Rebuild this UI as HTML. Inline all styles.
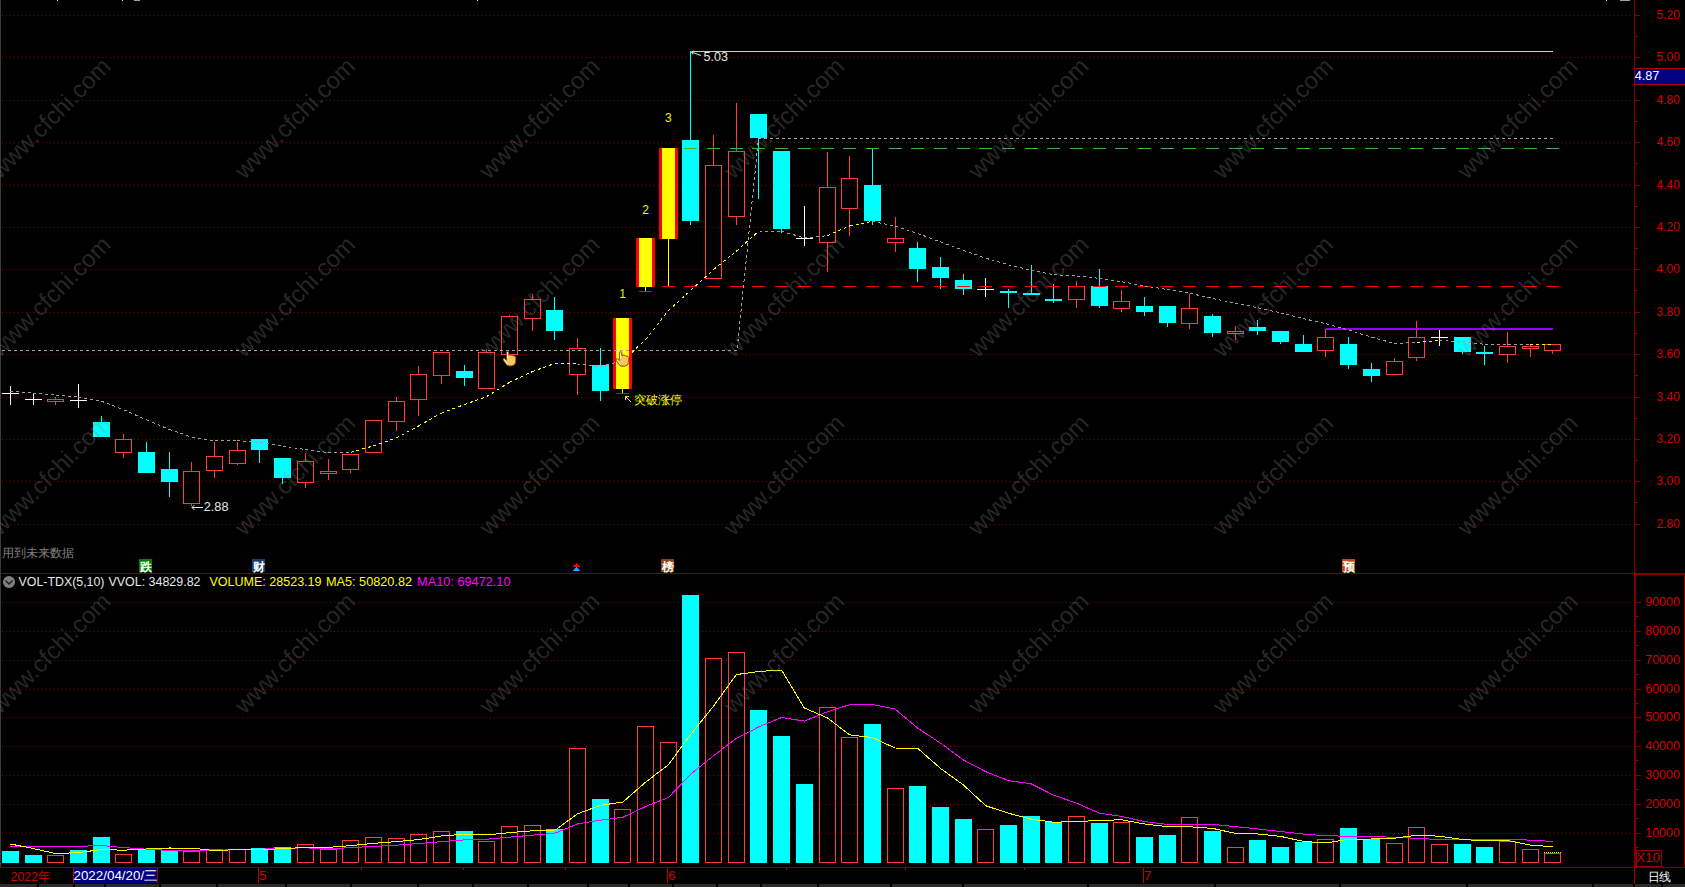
<!DOCTYPE html><html><head><meta charset="utf-8"><style>html,body{margin:0;padding:0;background:#000;width:1685px;height:887px;overflow:hidden;position:relative}</style></head><body><svg width="1685" height="887" viewBox="0 0 1685 887" shape-rendering="crispEdges" style="position:absolute;left:0;top:0"><rect x="0" y="0" width="1685" height="887" fill="#000"/><rect x="0" y="0" width="1" height="867" fill="#3a3a3a"/><line x1="2" y1="15.5" x2="1632" y2="15.5" stroke="#8c0000" stroke-width="1" stroke-dasharray="1 3"/><line x1="2" y1="57.5" x2="1632" y2="57.5" stroke="#8c0000" stroke-width="1" stroke-dasharray="1 3"/><line x1="2" y1="100.5" x2="1632" y2="100.5" stroke="#8c0000" stroke-width="1" stroke-dasharray="1 3"/><line x1="2" y1="142.5" x2="1632" y2="142.5" stroke="#8c0000" stroke-width="1" stroke-dasharray="1 3"/><line x1="2" y1="185.5" x2="1632" y2="185.5" stroke="#8c0000" stroke-width="1" stroke-dasharray="1 3"/><line x1="2" y1="227.5" x2="1632" y2="227.5" stroke="#8c0000" stroke-width="1" stroke-dasharray="1 3"/><line x1="2" y1="269.5" x2="1632" y2="269.5" stroke="#8c0000" stroke-width="1" stroke-dasharray="1 3"/><line x1="2" y1="312.5" x2="1632" y2="312.5" stroke="#8c0000" stroke-width="1" stroke-dasharray="1 3"/><line x1="2" y1="354.5" x2="1632" y2="354.5" stroke="#8c0000" stroke-width="1" stroke-dasharray="1 3"/><line x1="2" y1="397.5" x2="1632" y2="397.5" stroke="#8c0000" stroke-width="1" stroke-dasharray="1 3"/><line x1="2" y1="439.5" x2="1632" y2="439.5" stroke="#8c0000" stroke-width="1" stroke-dasharray="1 3"/><line x1="2" y1="481.5" x2="1632" y2="481.5" stroke="#8c0000" stroke-width="1" stroke-dasharray="1 3"/><line x1="2" y1="524.5" x2="1632" y2="524.5" stroke="#8c0000" stroke-width="1" stroke-dasharray="1 3"/><line x1="2" y1="602.5" x2="1632" y2="602.5" stroke="#8c0000" stroke-width="1" stroke-dasharray="1 3"/><line x1="2" y1="631.5" x2="1632" y2="631.5" stroke="#8c0000" stroke-width="1" stroke-dasharray="1 3"/><line x1="2" y1="660.5" x2="1632" y2="660.5" stroke="#8c0000" stroke-width="1" stroke-dasharray="1 3"/><line x1="2" y1="689.5" x2="1632" y2="689.5" stroke="#8c0000" stroke-width="1" stroke-dasharray="1 3"/><line x1="2" y1="717.5" x2="1632" y2="717.5" stroke="#8c0000" stroke-width="1" stroke-dasharray="1 3"/><line x1="2" y1="746.5" x2="1632" y2="746.5" stroke="#8c0000" stroke-width="1" stroke-dasharray="1 3"/><line x1="2" y1="775.5" x2="1632" y2="775.5" stroke="#8c0000" stroke-width="1" stroke-dasharray="1 3"/><line x1="2" y1="804.5" x2="1632" y2="804.5" stroke="#8c0000" stroke-width="1" stroke-dasharray="1 3"/><line x1="2" y1="833.5" x2="1632" y2="833.5" stroke="#8c0000" stroke-width="1" stroke-dasharray="1 3"/><rect x="10" y="386" width="1" height="19" fill="#ffffff"/><rect x="2" y="393" width="17" height="1" fill="#ffffff"/><rect x="33" y="394" width="1" height="11" fill="#ffffff"/><rect x="25" y="399" width="17" height="1" fill="#ffffff"/><rect x="55" y="397" width="1" height="2" fill="#ff3c3c"/><rect x="55" y="402" width="1" height="3" fill="#ff3c3c"/><rect x="47.5" y="399.5" width="16" height="2" fill="none" stroke="#ff3c3c" stroke-width="1"/><rect x="78" y="384" width="1" height="24" fill="#ffffff"/><rect x="70" y="400" width="17" height="1" fill="#ffffff"/><rect x="101" y="416" width="1" height="21" fill="#00ffff"/><rect x="93" y="422" width="17" height="15" fill="#00ffff"/><rect x="123" y="434" width="1" height="5" fill="#ff3c3c"/><rect x="123" y="453" width="1" height="5" fill="#ff3c3c"/><rect x="115.5" y="439.5" width="16" height="13" fill="none" stroke="#ff3c3c" stroke-width="1"/><rect x="146" y="442" width="1" height="31" fill="#00ffff"/><rect x="138" y="452" width="17" height="21" fill="#00ffff"/><rect x="169" y="452" width="1" height="45" fill="#00ffff"/><rect x="161" y="469" width="17" height="13" fill="#00ffff"/><rect x="191" y="462" width="1" height="9" fill="#ff3c3c"/><rect x="191" y="504" width="1" height="2" fill="#ff3c3c"/><rect x="183.5" y="471.5" width="16" height="32" fill="none" stroke="#ff3c3c" stroke-width="1"/><rect x="214" y="442" width="1" height="14" fill="#ff3c3c"/><rect x="214" y="471" width="1" height="7" fill="#ff3c3c"/><rect x="206.5" y="456.5" width="16" height="14" fill="none" stroke="#ff3c3c" stroke-width="1"/><rect x="237" y="442" width="1" height="8" fill="#ff3c3c"/><rect x="237" y="464" width="1" height="1" fill="#ff3c3c"/><rect x="229.5" y="450.5" width="16" height="13" fill="none" stroke="#ff3c3c" stroke-width="1"/><rect x="259" y="439" width="1" height="24" fill="#00ffff"/><rect x="251" y="439" width="17" height="11" fill="#00ffff"/><rect x="282" y="458" width="1" height="26" fill="#00ffff"/><rect x="274" y="458" width="17" height="20" fill="#00ffff"/><rect x="305" y="453" width="1" height="8" fill="#ff3c3c"/><rect x="305" y="483" width="1" height="5" fill="#ff3c3c"/><rect x="297.5" y="461.5" width="16" height="21" fill="none" stroke="#ff3c3c" stroke-width="1"/><rect x="328" y="459" width="1" height="12" fill="#ff3c3c"/><rect x="328" y="474" width="1" height="6" fill="#ff3c3c"/><rect x="320.5" y="471.5" width="16" height="2" fill="none" stroke="#ff3c3c" stroke-width="1"/><rect x="350" y="470" width="1" height="3" fill="#ff3c3c"/><rect x="342.5" y="454.5" width="16" height="15" fill="none" stroke="#ff3c3c" stroke-width="1"/><rect x="365.5" y="420.5" width="16" height="32" fill="none" stroke="#ff3c3c" stroke-width="1"/><rect x="396" y="397" width="1" height="4" fill="#ff3c3c"/><rect x="396" y="422" width="1" height="9" fill="#ff3c3c"/><rect x="388.5" y="401.5" width="16" height="20" fill="none" stroke="#ff3c3c" stroke-width="1"/><rect x="418" y="366" width="1" height="8" fill="#ff3c3c"/><rect x="418" y="400" width="1" height="16" fill="#ff3c3c"/><rect x="410.5" y="374.5" width="16" height="25" fill="none" stroke="#ff3c3c" stroke-width="1"/><rect x="441" y="376" width="1" height="8" fill="#ff3c3c"/><rect x="433.5" y="352.5" width="16" height="23" fill="none" stroke="#ff3c3c" stroke-width="1"/><rect x="464" y="365" width="1" height="21" fill="#00ffff"/><rect x="456" y="371" width="17" height="7" fill="#00ffff"/><rect x="486" y="349" width="1" height="3" fill="#ff3c3c"/><rect x="478.5" y="352.5" width="16" height="36" fill="none" stroke="#ff3c3c" stroke-width="1"/><rect x="509" y="315" width="1" height="1" fill="#ff3c3c"/><rect x="501.5" y="316.5" width="16" height="38" fill="none" stroke="#ff3c3c" stroke-width="1"/><rect x="532" y="294" width="1" height="5" fill="#ff3c3c"/><rect x="532" y="319" width="1" height="12" fill="#ff3c3c"/><rect x="524.5" y="299.5" width="16" height="19" fill="none" stroke="#ff3c3c" stroke-width="1"/><rect x="554" y="297" width="1" height="43" fill="#00ffff"/><rect x="546" y="310" width="17" height="21" fill="#00ffff"/><rect x="577" y="338" width="1" height="10" fill="#ff3c3c"/><rect x="577" y="375" width="1" height="20" fill="#ff3c3c"/><rect x="569.5" y="348.5" width="16" height="26" fill="none" stroke="#ff3c3c" stroke-width="1"/><rect x="600" y="348" width="1" height="53" fill="#00ffff"/><rect x="592" y="365" width="17" height="26" fill="#00ffff"/><rect x="622" y="389" width="1" height="4" fill="#ffff00"/><rect x="613" y="318" width="19" height="71" fill="#ff0000"/><rect x="616" y="318" width="13" height="71" fill="#ffff00"/><rect x="645" y="287" width="1" height="4" fill="#ffff00"/><rect x="636" y="238" width="19" height="49" fill="#ff0000"/><rect x="639" y="238" width="13" height="49" fill="#ffff00"/><rect x="668" y="239" width="1" height="47" fill="#ffff00"/><rect x="659" y="148" width="19" height="91" fill="#ff0000"/><rect x="662" y="148" width="13" height="91" fill="#ffff00"/><rect x="690" y="51" width="1" height="174" fill="#00ffff"/><rect x="682" y="140" width="17" height="81" fill="#00ffff"/><rect x="713" y="135" width="1" height="30" fill="#ff3c3c"/><rect x="705.5" y="165.5" width="16" height="113" fill="none" stroke="#ff3c3c" stroke-width="1"/><rect x="736" y="103" width="1" height="48" fill="#ff3c3c"/><rect x="736" y="217" width="1" height="8" fill="#ff3c3c"/><rect x="728.5" y="151.5" width="16" height="65" fill="none" stroke="#ff3c3c" stroke-width="1"/><rect x="758" y="114" width="1" height="85" fill="#00ffff"/><rect x="750" y="114" width="17" height="24" fill="#00ffff"/><rect x="781" y="151" width="1" height="82" fill="#00ffff"/><rect x="773" y="151" width="17" height="78" fill="#00ffff"/><rect x="804" y="206" width="1" height="40" fill="#ffffff"/><rect x="796" y="238" width="17" height="1" fill="#ffffff"/><rect x="827" y="152" width="1" height="35" fill="#ff3c3c"/><rect x="827" y="243" width="1" height="29" fill="#ff3c3c"/><rect x="819.5" y="187.5" width="16" height="55" fill="none" stroke="#ff3c3c" stroke-width="1"/><rect x="849" y="156" width="1" height="22" fill="#ff3c3c"/><rect x="849" y="209" width="1" height="27" fill="#ff3c3c"/><rect x="841.5" y="178.5" width="16" height="30" fill="none" stroke="#ff3c3c" stroke-width="1"/><rect x="872" y="149" width="1" height="76" fill="#00ffff"/><rect x="864" y="185" width="17" height="36" fill="#00ffff"/><rect x="895" y="217" width="1" height="21" fill="#ff3c3c"/><rect x="895" y="243" width="1" height="9" fill="#ff3c3c"/><rect x="887.5" y="238.5" width="16" height="4" fill="none" stroke="#ff3c3c" stroke-width="1"/><rect x="917" y="242" width="1" height="40" fill="#00ffff"/><rect x="909" y="248" width="17" height="21" fill="#00ffff"/><rect x="940" y="257" width="1" height="32" fill="#00ffff"/><rect x="932" y="267" width="17" height="11" fill="#00ffff"/><rect x="963" y="274" width="1" height="21" fill="#00ffff"/><rect x="955" y="280" width="17" height="9" fill="#00ffff"/><rect x="985" y="278" width="1" height="19" fill="#ffffff"/><rect x="977" y="289" width="17" height="1" fill="#ffffff"/><rect x="1008" y="289" width="1" height="19" fill="#00ffff"/><rect x="1000" y="291" width="17" height="2" fill="#00ffff"/><rect x="1031" y="265" width="1" height="30" fill="#00ffff"/><rect x="1023" y="293" width="17" height="2" fill="#00ffff"/><rect x="1053" y="284" width="1" height="19" fill="#00ffff"/><rect x="1045" y="299" width="17" height="2" fill="#00ffff"/><rect x="1076" y="281" width="1" height="5" fill="#ff3c3c"/><rect x="1076" y="300" width="1" height="8" fill="#ff3c3c"/><rect x="1068.5" y="286.5" width="16" height="13" fill="none" stroke="#ff3c3c" stroke-width="1"/><rect x="1099" y="269" width="1" height="39" fill="#00ffff"/><rect x="1091" y="286" width="17" height="20" fill="#00ffff"/><rect x="1121" y="290" width="1" height="11" fill="#ff3c3c"/><rect x="1121" y="309" width="1" height="3" fill="#ff3c3c"/><rect x="1113.5" y="301.5" width="16" height="7" fill="none" stroke="#ff3c3c" stroke-width="1"/><rect x="1144" y="297" width="1" height="19" fill="#00ffff"/><rect x="1136" y="306" width="17" height="6" fill="#00ffff"/><rect x="1167" y="306" width="1" height="21" fill="#00ffff"/><rect x="1159" y="306" width="17" height="17" fill="#00ffff"/><rect x="1189" y="294" width="1" height="14" fill="#ff3c3c"/><rect x="1189" y="324" width="1" height="5" fill="#ff3c3c"/><rect x="1181.5" y="308.5" width="16" height="15" fill="none" stroke="#ff3c3c" stroke-width="1"/><rect x="1212" y="314" width="1" height="23" fill="#00ffff"/><rect x="1204" y="316" width="17" height="17" fill="#00ffff"/><rect x="1235" y="326" width="1" height="5" fill="#ff3c3c"/><rect x="1235" y="334" width="1" height="6" fill="#ff3c3c"/><rect x="1227.5" y="331.5" width="16" height="2" fill="none" stroke="#ff3c3c" stroke-width="1"/><rect x="1257" y="320" width="1" height="15" fill="#00ffff"/><rect x="1249" y="327" width="17" height="4" fill="#00ffff"/><rect x="1280" y="331" width="1" height="13" fill="#00ffff"/><rect x="1272" y="331" width="17" height="11" fill="#00ffff"/><rect x="1303" y="335" width="1" height="17" fill="#00ffff"/><rect x="1295" y="344" width="17" height="8" fill="#00ffff"/><rect x="1325" y="329" width="1" height="8" fill="#ff3c3c"/><rect x="1325" y="351" width="1" height="6" fill="#ff3c3c"/><rect x="1317.5" y="337.5" width="16" height="13" fill="none" stroke="#ff3c3c" stroke-width="1"/><rect x="1348" y="337" width="1" height="32" fill="#00ffff"/><rect x="1340" y="344" width="17" height="21" fill="#00ffff"/><rect x="1371" y="363" width="1" height="19" fill="#00ffff"/><rect x="1363" y="369" width="17" height="7" fill="#00ffff"/><rect x="1394" y="358" width="1" height="3" fill="#ff3c3c"/><rect x="1386.5" y="361.5" width="16" height="13" fill="none" stroke="#ff3c3c" stroke-width="1"/><rect x="1416" y="321" width="1" height="16" fill="#ff3c3c"/><rect x="1416" y="358" width="1" height="3" fill="#ff3c3c"/><rect x="1408.5" y="337.5" width="16" height="20" fill="none" stroke="#ff3c3c" stroke-width="1"/><rect x="1439" y="330" width="1" height="16" fill="#ffffff"/><rect x="1431" y="337" width="17" height="1" fill="#ffffff"/><rect x="1462" y="337" width="1" height="17" fill="#00ffff"/><rect x="1454" y="337" width="17" height="15" fill="#00ffff"/><rect x="1484" y="346" width="1" height="19" fill="#00ffff"/><rect x="1476" y="352" width="17" height="2" fill="#00ffff"/><rect x="1507" y="332" width="1" height="14" fill="#ff3c3c"/><rect x="1507" y="355" width="1" height="8" fill="#ff3c3c"/><rect x="1499.5" y="346.5" width="16" height="8" fill="none" stroke="#ff3c3c" stroke-width="1"/><rect x="1530" y="344" width="1" height="2" fill="#ff3c3c"/><rect x="1530" y="349" width="1" height="8" fill="#ff3c3c"/><rect x="1522.5" y="346.5" width="16" height="2" fill="none" stroke="#ff3c3c" stroke-width="1"/><rect x="1552" y="351" width="1" height="3" fill="#ff3c3c"/><rect x="1544.5" y="344.5" width="16" height="6" fill="none" stroke="#ff3c3c" stroke-width="1"/><polyline points="2,350.5 737,350.5 758.5,138.5 1553,138.5" fill="none" stroke="#a4a4a4" stroke-width="1" stroke-dasharray="3 3"/><line x1="692" y1="51.5" x2="1553" y2="51.5" stroke="#cccccc" stroke-width="1"/><rect x="684" y="148" width="13" height="1" fill="#3cb43c"/><rect x="707" y="148" width="13" height="1" fill="#3cb43c"/><rect x="730" y="148" width="13" height="1" fill="#3cb43c"/><rect x="752" y="148" width="13" height="1" fill="#3cb43c"/><rect x="775" y="148" width="13" height="1" fill="#3cb43c"/><rect x="798" y="148" width="13" height="1" fill="#3cb43c"/><rect x="821" y="148" width="13" height="1" fill="#3cb43c"/><rect x="843" y="148" width="13" height="1" fill="#3cb43c"/><rect x="866" y="148" width="13" height="1" fill="#3cb43c"/><rect x="889" y="148" width="13" height="1" fill="#3cb43c"/><rect x="911" y="148" width="13" height="1" fill="#3cb43c"/><rect x="934" y="148" width="13" height="1" fill="#3cb43c"/><rect x="957" y="148" width="13" height="1" fill="#3cb43c"/><rect x="979" y="148" width="13" height="1" fill="#3cb43c"/><rect x="1002" y="148" width="13" height="1" fill="#3cb43c"/><rect x="1025" y="148" width="13" height="1" fill="#3cb43c"/><rect x="1047" y="148" width="13" height="1" fill="#3cb43c"/><rect x="1070" y="148" width="13" height="1" fill="#3cb43c"/><rect x="1093" y="148" width="13" height="1" fill="#3cb43c"/><rect x="1115" y="148" width="13" height="1" fill="#3cb43c"/><rect x="1138" y="148" width="13" height="1" fill="#3cb43c"/><rect x="1161" y="148" width="13" height="1" fill="#3cb43c"/><rect x="1183" y="148" width="13" height="1" fill="#3cb43c"/><rect x="1206" y="148" width="13" height="1" fill="#3cb43c"/><rect x="1229" y="148" width="13" height="1" fill="#3cb43c"/><rect x="1251" y="148" width="13" height="1" fill="#3cb43c"/><rect x="1274" y="148" width="13" height="1" fill="#3cb43c"/><rect x="1297" y="148" width="13" height="1" fill="#3cb43c"/><rect x="1319" y="148" width="13" height="1" fill="#3cb43c"/><rect x="1342" y="148" width="13" height="1" fill="#3cb43c"/><rect x="1365" y="148" width="13" height="1" fill="#3cb43c"/><rect x="1388" y="148" width="13" height="1" fill="#3cb43c"/><rect x="1410" y="148" width="13" height="1" fill="#3cb43c"/><rect x="1433" y="148" width="13" height="1" fill="#3cb43c"/><rect x="1456" y="148" width="13" height="1" fill="#3cb43c"/><rect x="1478" y="148" width="13" height="1" fill="#3cb43c"/><rect x="1501" y="148" width="13" height="1" fill="#3cb43c"/><rect x="1524" y="148" width="13" height="1" fill="#3cb43c"/><rect x="1546" y="148" width="13" height="1" fill="#3cb43c"/><rect x="616" y="393" width="13" height="1" fill="#ff0000"/><rect x="639" y="291" width="13" height="1" fill="#ff0000"/><rect x="662" y="286" width="13" height="1" fill="#ff0000"/><rect x="684" y="286" width="13" height="1" fill="#ff0000"/><rect x="707" y="286" width="13" height="1" fill="#ff0000"/><rect x="730" y="286" width="13" height="1" fill="#ff0000"/><rect x="752" y="286" width="13" height="1" fill="#ff0000"/><rect x="775" y="286" width="13" height="1" fill="#ff0000"/><rect x="798" y="286" width="13" height="1" fill="#ff0000"/><rect x="821" y="286" width="13" height="1" fill="#ff0000"/><rect x="843" y="286" width="13" height="1" fill="#ff0000"/><rect x="866" y="286" width="13" height="1" fill="#ff0000"/><rect x="889" y="286" width="13" height="1" fill="#ff0000"/><rect x="911" y="286" width="13" height="1" fill="#ff0000"/><rect x="934" y="286" width="13" height="1" fill="#ff0000"/><rect x="957" y="286" width="13" height="1" fill="#ff0000"/><rect x="979" y="286" width="13" height="1" fill="#ff0000"/><rect x="1002" y="286" width="13" height="1" fill="#ff0000"/><rect x="1025" y="286" width="13" height="1" fill="#ff0000"/><rect x="1047" y="286" width="13" height="1" fill="#ff0000"/><rect x="1070" y="286" width="13" height="1" fill="#ff0000"/><rect x="1093" y="286" width="13" height="1" fill="#ff0000"/><rect x="1115" y="286" width="13" height="1" fill="#ff0000"/><rect x="1138" y="286" width="13" height="1" fill="#ff0000"/><rect x="1161" y="286" width="13" height="1" fill="#ff0000"/><rect x="1183" y="286" width="13" height="1" fill="#ff0000"/><rect x="1206" y="286" width="13" height="1" fill="#ff0000"/><rect x="1229" y="286" width="13" height="1" fill="#ff0000"/><rect x="1251" y="286" width="13" height="1" fill="#ff0000"/><rect x="1274" y="286" width="13" height="1" fill="#ff0000"/><rect x="1297" y="286" width="13" height="1" fill="#ff0000"/><rect x="1319" y="286" width="13" height="1" fill="#ff0000"/><rect x="1342" y="286" width="13" height="1" fill="#ff0000"/><rect x="1365" y="286" width="13" height="1" fill="#ff0000"/><rect x="1388" y="286" width="13" height="1" fill="#ff0000"/><rect x="1410" y="286" width="13" height="1" fill="#ff0000"/><rect x="1433" y="286" width="13" height="1" fill="#ff0000"/><rect x="1456" y="286" width="13" height="1" fill="#ff0000"/><rect x="1478" y="286" width="13" height="1" fill="#ff0000"/><rect x="1501" y="286" width="13" height="1" fill="#ff0000"/><rect x="1524" y="286" width="13" height="1" fill="#ff0000"/><rect x="1546" y="286" width="13" height="1" fill="#ff0000"/><rect x="1326" y="328" width="227" height="2" fill="#9000ff"/><line x1="10.4" y1="391.2" x2="33.1" y2="393.1" stroke="#a0a0a0" stroke-width="1" stroke-dasharray="3 3"/><line x1="33.1" y1="393.1" x2="55.8" y2="395.1" stroke="#a0a0a0" stroke-width="1" stroke-dasharray="3 3"/><line x1="55.8" y1="395.1" x2="78.5" y2="397.0" stroke="#a0a0a0" stroke-width="1" stroke-dasharray="3 3"/><line x1="78.5" y1="397.0" x2="101.2" y2="401.1" stroke="#a0a0a0" stroke-width="1" stroke-dasharray="3 3"/><line x1="101.2" y1="401.1" x2="123.8" y2="409.8" stroke="#a0a0a0" stroke-width="1" stroke-dasharray="3 3"/><line x1="123.8" y1="409.8" x2="146.5" y2="419.9" stroke="#a0a0a0" stroke-width="1" stroke-dasharray="3 3"/><line x1="146.5" y1="419.9" x2="169.2" y2="429.4" stroke="#a0a0a0" stroke-width="1" stroke-dasharray="3 3"/><line x1="169.2" y1="429.4" x2="191.9" y2="437.2" stroke="#a0a0a0" stroke-width="1" stroke-dasharray="3 3"/><line x1="191.9" y1="437.2" x2="214.6" y2="440.8" stroke="#a0a0a0" stroke-width="1" stroke-dasharray="3 3"/><line x1="214.6" y1="440.8" x2="237.3" y2="440.8" stroke="#a0a0a0" stroke-width="1" stroke-dasharray="3 3"/><line x1="237.3" y1="440.8" x2="260.0" y2="442.4" stroke="#a0a0a0" stroke-width="1" stroke-dasharray="3 3"/><line x1="260.0" y1="442.4" x2="282.6" y2="446.1" stroke="#a0a0a0" stroke-width="1" stroke-dasharray="3 3"/><line x1="282.6" y1="446.1" x2="305.3" y2="449.5" stroke="#a0a0a0" stroke-width="1" stroke-dasharray="3 3"/><line x1="305.3" y1="449.5" x2="328.0" y2="452.5" stroke="#a0a0a0" stroke-width="1" stroke-dasharray="3 3"/><line x1="328.0" y1="452.5" x2="350.7" y2="452.3" stroke="#a0a0a0" stroke-width="1" stroke-dasharray="3 3"/><line x1="350.7" y1="452.3" x2="373.4" y2="445.9" stroke="#ffff00" stroke-width="1" stroke-dasharray="3 3"/><line x1="373.4" y1="445.9" x2="396.1" y2="438.1" stroke="#ffff00" stroke-width="1" stroke-dasharray="3 3"/><line x1="396.1" y1="438.1" x2="418.7" y2="425.9" stroke="#ffff00" stroke-width="1" stroke-dasharray="3 3"/><line x1="418.7" y1="425.9" x2="441.4" y2="413.1" stroke="#ffff00" stroke-width="1" stroke-dasharray="3 3"/><line x1="441.4" y1="413.1" x2="464.1" y2="404.7" stroke="#ffff00" stroke-width="1" stroke-dasharray="3 3"/><line x1="464.1" y1="404.7" x2="486.8" y2="396.5" stroke="#ffff00" stroke-width="1" stroke-dasharray="3 3"/><line x1="486.8" y1="396.5" x2="509.5" y2="382.3" stroke="#ffff00" stroke-width="1" stroke-dasharray="3 3"/><line x1="509.5" y1="382.3" x2="532.2" y2="371.7" stroke="#ffff00" stroke-width="1" stroke-dasharray="3 3"/><line x1="532.2" y1="371.7" x2="554.8" y2="363.4" stroke="#ffff00" stroke-width="1" stroke-dasharray="3 3"/><line x1="554.8" y1="363.4" x2="577.5" y2="363.9" stroke="#ffff00" stroke-width="1" stroke-dasharray="3 3"/><line x1="577.5" y1="363.9" x2="600.2" y2="366.5" stroke="#a0a0a0" stroke-width="1" stroke-dasharray="3 3"/><line x1="600.2" y1="366.5" x2="622.9" y2="360.8" stroke="#a0a0a0" stroke-width="1" stroke-dasharray="3 3"/><line x1="622.9" y1="360.8" x2="645.6" y2="339.6" stroke="#ffff00" stroke-width="1" stroke-dasharray="3 3"/><line x1="645.6" y1="339.6" x2="668.3" y2="310.6" stroke="#ffff00" stroke-width="1" stroke-dasharray="3 3"/><line x1="668.3" y1="310.6" x2="690.9" y2="290.2" stroke="#ffff00" stroke-width="1" stroke-dasharray="3 3"/><line x1="690.9" y1="290.2" x2="713.6" y2="269.6" stroke="#ffff00" stroke-width="1" stroke-dasharray="3 3"/><line x1="713.6" y1="269.6" x2="736.3" y2="251.3" stroke="#ffff00" stroke-width="1" stroke-dasharray="3 3"/><line x1="736.3" y1="251.3" x2="759.0" y2="231.0" stroke="#ffff00" stroke-width="1" stroke-dasharray="3 3"/><line x1="759.0" y1="231.0" x2="781.7" y2="231.3" stroke="#a0a0a0" stroke-width="1" stroke-dasharray="3 3"/><line x1="781.7" y1="231.3" x2="804.4" y2="237.9" stroke="#a0a0a0" stroke-width="1" stroke-dasharray="3 3"/><line x1="804.4" y1="237.9" x2="827.1" y2="235.7" stroke="#a0a0a0" stroke-width="1" stroke-dasharray="3 3"/><line x1="827.1" y1="235.7" x2="849.7" y2="225.9" stroke="#ffff00" stroke-width="1" stroke-dasharray="3 3"/><line x1="849.7" y1="225.9" x2="872.4" y2="221.3" stroke="#ffff00" stroke-width="1" stroke-dasharray="3 3"/><line x1="872.4" y1="221.3" x2="895.1" y2="226.2" stroke="#a0a0a0" stroke-width="1" stroke-dasharray="3 3"/><line x1="895.1" y1="226.2" x2="917.8" y2="233.5" stroke="#a0a0a0" stroke-width="1" stroke-dasharray="3 3"/><line x1="917.8" y1="233.5" x2="940.5" y2="241.9" stroke="#a0a0a0" stroke-width="1" stroke-dasharray="3 3"/><line x1="940.5" y1="241.9" x2="963.2" y2="250.3" stroke="#a0a0a0" stroke-width="1" stroke-dasharray="3 3"/><line x1="963.2" y1="250.3" x2="985.8" y2="258.2" stroke="#a0a0a0" stroke-width="1" stroke-dasharray="3 3"/><line x1="985.8" y1="258.2" x2="1008.5" y2="264.8" stroke="#a0a0a0" stroke-width="1" stroke-dasharray="3 3"/><line x1="1008.5" y1="264.8" x2="1031.2" y2="270.2" stroke="#a0a0a0" stroke-width="1" stroke-dasharray="3 3"/><line x1="1031.2" y1="270.2" x2="1053.9" y2="274.7" stroke="#a0a0a0" stroke-width="1" stroke-dasharray="3 3"/><line x1="1053.9" y1="274.7" x2="1076.6" y2="276.1" stroke="#a0a0a0" stroke-width="1" stroke-dasharray="3 3"/><line x1="1076.6" y1="276.1" x2="1099.3" y2="278.3" stroke="#a0a0a0" stroke-width="1" stroke-dasharray="3 3"/><line x1="1099.3" y1="278.3" x2="1121.9" y2="281.8" stroke="#a0a0a0" stroke-width="1" stroke-dasharray="3 3"/><line x1="1121.9" y1="281.8" x2="1144.6" y2="285.9" stroke="#a0a0a0" stroke-width="1" stroke-dasharray="3 3"/><line x1="1144.6" y1="285.9" x2="1167.3" y2="289.6" stroke="#a0a0a0" stroke-width="1" stroke-dasharray="3 3"/><line x1="1167.3" y1="289.6" x2="1190.0" y2="293.3" stroke="#a0a0a0" stroke-width="1" stroke-dasharray="3 3"/><line x1="1190.0" y1="293.3" x2="1212.7" y2="298.5" stroke="#a0a0a0" stroke-width="1" stroke-dasharray="3 3"/><line x1="1212.7" y1="298.5" x2="1235.4" y2="303.0" stroke="#a0a0a0" stroke-width="1" stroke-dasharray="3 3"/><line x1="1235.4" y1="303.0" x2="1258.1" y2="307.8" stroke="#a0a0a0" stroke-width="1" stroke-dasharray="3 3"/><line x1="1258.1" y1="307.8" x2="1280.7" y2="312.9" stroke="#a0a0a0" stroke-width="1" stroke-dasharray="3 3"/><line x1="1280.7" y1="312.9" x2="1303.4" y2="318.6" stroke="#a0a0a0" stroke-width="1" stroke-dasharray="3 3"/><line x1="1303.4" y1="318.6" x2="1326.1" y2="323.8" stroke="#a0a0a0" stroke-width="1" stroke-dasharray="3 3"/><line x1="1326.1" y1="323.8" x2="1348.8" y2="330.1" stroke="#a0a0a0" stroke-width="1" stroke-dasharray="3 3"/><line x1="1348.8" y1="330.1" x2="1371.5" y2="337.2" stroke="#a0a0a0" stroke-width="1" stroke-dasharray="3 3"/><line x1="1371.5" y1="337.2" x2="1394.2" y2="343.4" stroke="#a0a0a0" stroke-width="1" stroke-dasharray="3 3"/><line x1="1394.2" y1="343.4" x2="1416.8" y2="342.4" stroke="#a0a0a0" stroke-width="1" stroke-dasharray="3 3"/><line x1="1416.8" y1="342.4" x2="1439.5" y2="340.5" stroke="#ffff00" stroke-width="1" stroke-dasharray="3 3"/><line x1="1439.5" y1="340.5" x2="1462.2" y2="341.6" stroke="#a0a0a0" stroke-width="1" stroke-dasharray="3 3"/><line x1="1462.2" y1="341.6" x2="1484.9" y2="344.3" stroke="#a0a0a0" stroke-width="1" stroke-dasharray="3 3"/><line x1="1484.9" y1="344.3" x2="1507.6" y2="344.3" stroke="#a0a0a0" stroke-width="1" stroke-dasharray="3 3"/><line x1="1507.6" y1="344.3" x2="1530.3" y2="344.3" stroke="#a0a0a0" stroke-width="1" stroke-dasharray="3 3"/><line x1="1530.3" y1="344.3" x2="1552.9" y2="344.3" stroke="#ffff00" stroke-width="1" stroke-dasharray="3 3"/><rect x="2" y="851" width="17" height="12" fill="#00ffff"/><rect x="25" y="855" width="17" height="8" fill="#00ffff"/><rect x="47.5" y="855.5" width="16" height="7" fill="none" stroke="#ff3c3c" stroke-width="1"/><rect x="70" y="850" width="17" height="13" fill="#00ffff"/><rect x="93" y="837" width="17" height="26" fill="#00ffff"/><rect x="115.5" y="854.5" width="16" height="8" fill="none" stroke="#ff3c3c" stroke-width="1"/><rect x="138" y="849" width="17" height="14" fill="#00ffff"/><rect x="161" y="850" width="17" height="13" fill="#00ffff"/><rect x="183.5" y="851.5" width="16" height="11" fill="none" stroke="#ff3c3c" stroke-width="1"/><rect x="206.5" y="849.5" width="16" height="13" fill="none" stroke="#ff3c3c" stroke-width="1"/><rect x="229.5" y="849.5" width="16" height="13" fill="none" stroke="#ff3c3c" stroke-width="1"/><rect x="251" y="848" width="17" height="15" fill="#00ffff"/><rect x="274" y="847" width="17" height="16" fill="#00ffff"/><rect x="297.5" y="844.5" width="16" height="18" fill="none" stroke="#ff3c3c" stroke-width="1"/><rect x="320.5" y="849.5" width="16" height="13" fill="none" stroke="#ff3c3c" stroke-width="1"/><rect x="342.5" y="840.5" width="16" height="22" fill="none" stroke="#ff3c3c" stroke-width="1"/><rect x="365.5" y="837.5" width="16" height="25" fill="none" stroke="#ff3c3c" stroke-width="1"/><rect x="388.5" y="838.5" width="16" height="24" fill="none" stroke="#ff3c3c" stroke-width="1"/><rect x="410.5" y="834.5" width="16" height="28" fill="none" stroke="#ff3c3c" stroke-width="1"/><rect x="433.5" y="831.5" width="16" height="31" fill="none" stroke="#ff3c3c" stroke-width="1"/><rect x="456" y="831" width="17" height="32" fill="#00ffff"/><rect x="478.5" y="841.5" width="16" height="21" fill="none" stroke="#ff3c3c" stroke-width="1"/><rect x="501.5" y="826.5" width="16" height="36" fill="none" stroke="#ff3c3c" stroke-width="1"/><rect x="524.5" y="825.5" width="16" height="37" fill="none" stroke="#ff3c3c" stroke-width="1"/><rect x="546" y="829" width="17" height="34" fill="#00ffff"/><rect x="569.5" y="748.5" width="16" height="114" fill="none" stroke="#ff3c3c" stroke-width="1"/><rect x="592" y="799" width="17" height="64" fill="#00ffff"/><rect x="614.5" y="809.5" width="16" height="53" fill="none" stroke="#ff3c3c" stroke-width="1"/><rect x="637.5" y="726.5" width="16" height="136" fill="none" stroke="#ff3c3c" stroke-width="1"/><rect x="660.5" y="742.5" width="16" height="120" fill="none" stroke="#ff3c3c" stroke-width="1"/><rect x="682" y="595" width="17" height="268" fill="#00ffff"/><rect x="705.5" y="658.5" width="16" height="204" fill="none" stroke="#ff3c3c" stroke-width="1"/><rect x="728.5" y="652.5" width="16" height="210" fill="none" stroke="#ff3c3c" stroke-width="1"/><rect x="750" y="710" width="17" height="153" fill="#00ffff"/><rect x="773" y="736" width="17" height="127" fill="#00ffff"/><rect x="796" y="784" width="17" height="79" fill="#00ffff"/><rect x="819.5" y="707.5" width="16" height="155" fill="none" stroke="#ff3c3c" stroke-width="1"/><rect x="841.5" y="737.5" width="16" height="125" fill="none" stroke="#ff3c3c" stroke-width="1"/><rect x="864" y="724" width="17" height="139" fill="#00ffff"/><rect x="887.5" y="788.5" width="16" height="74" fill="none" stroke="#ff3c3c" stroke-width="1"/><rect x="909" y="786" width="17" height="77" fill="#00ffff"/><rect x="932" y="807" width="17" height="56" fill="#00ffff"/><rect x="955" y="819" width="17" height="44" fill="#00ffff"/><rect x="977.5" y="829.5" width="16" height="33" fill="none" stroke="#ff3c3c" stroke-width="1"/><rect x="1000" y="825" width="17" height="38" fill="#00ffff"/><rect x="1023" y="816" width="17" height="47" fill="#00ffff"/><rect x="1045" y="822" width="17" height="41" fill="#00ffff"/><rect x="1068.5" y="816.5" width="16" height="46" fill="none" stroke="#ff3c3c" stroke-width="1"/><rect x="1091" y="823" width="17" height="40" fill="#00ffff"/><rect x="1113.5" y="822.5" width="16" height="40" fill="none" stroke="#ff3c3c" stroke-width="1"/><rect x="1136" y="837" width="17" height="26" fill="#00ffff"/><rect x="1159" y="835" width="17" height="28" fill="#00ffff"/><rect x="1181.5" y="817.5" width="16" height="45" fill="none" stroke="#ff3c3c" stroke-width="1"/><rect x="1204" y="831" width="17" height="32" fill="#00ffff"/><rect x="1227.5" y="847.5" width="16" height="15" fill="none" stroke="#ff3c3c" stroke-width="1"/><rect x="1249" y="840" width="17" height="23" fill="#00ffff"/><rect x="1272" y="847" width="17" height="16" fill="#00ffff"/><rect x="1295" y="842" width="17" height="21" fill="#00ffff"/><rect x="1317.5" y="839.5" width="16" height="23" fill="none" stroke="#ff3c3c" stroke-width="1"/><rect x="1340" y="828" width="17" height="35" fill="#00ffff"/><rect x="1363" y="839" width="17" height="24" fill="#00ffff"/><rect x="1386.5" y="843.5" width="16" height="19" fill="none" stroke="#ff3c3c" stroke-width="1"/><rect x="1408.5" y="827.5" width="16" height="35" fill="none" stroke="#ff3c3c" stroke-width="1"/><rect x="1431.5" y="844.5" width="16" height="18" fill="none" stroke="#ff3c3c" stroke-width="1"/><rect x="1454" y="844" width="17" height="19" fill="#00ffff"/><rect x="1476" y="847" width="17" height="16" fill="#00ffff"/><rect x="1499.5" y="841.5" width="16" height="21" fill="none" stroke="#ff3c3c" stroke-width="1"/><rect x="1522.5" y="849.5" width="16" height="13" fill="none" stroke="#ff3c3c" stroke-width="1"/><rect x="1544.5" y="853.5" width="16" height="9" fill="none" stroke="#ff3c3c" stroke-width="1"/><polyline points="10.4,846.4 33.1,846.4 55.8,846.4 78.5,846.4 101.2,845.5 123.8,847.6 146.5,849.2 169.2,850.4 191.9,850.4 214.6,850.1 237.3,849.9 260.0,849.2 282.6,848.4 305.3,847.8 328.0,849.0 350.7,847.6 373.4,846.4 396.1,845.2 418.7,843.5 441.4,841.7 464.1,839.9 486.8,839.2 509.5,837.1 532.2,835.2 554.8,833.2 577.5,824.0 600.2,820.2 622.9,817.3 645.6,806.5 668.3,797.6 690.9,774.0 713.6,755.7 736.3,738.3 759.0,726.8 781.7,717.5 804.4,721.1 827.1,711.9 849.7,704.7 872.4,704.5 895.1,709.1 917.8,728.2 940.5,743.1 963.2,759.8 985.8,771.7 1008.5,780.6 1031.2,783.8 1053.9,795.3 1076.6,803.2 1099.3,813.1 1121.9,816.5 1144.6,821.6 1167.3,824.4 1190.0,824.2 1212.7,824.4 1235.4,826.6 1258.1,829.0 1280.7,831.5 1303.4,834.1 1326.1,835.7 1348.8,836.3 1371.5,836.5 1394.2,837.3 1416.8,838.3 1439.5,839.6 1462.2,839.3 1484.9,840.0 1507.6,839.4 1530.3,840.1 1552.9,841.5" fill="none" stroke="#ff00ff" stroke-width="1"/><polyline points="10.4,844.0 33.1,848.5 55.8,853.6 78.5,852.6 101.2,849.6 123.8,850.2 146.5,849.0 169.2,848.0 191.9,848.2 214.6,850.6 237.3,849.6 260.0,849.4 282.6,848.8 305.3,847.4 328.0,847.4 350.7,845.6 373.4,843.4 396.1,841.6 418.7,839.6 441.4,836.0 464.1,834.2 486.8,835.0 509.5,832.6 532.2,830.8 554.8,830.4 577.5,813.8 600.2,805.4 622.9,802.0 645.6,782.2 668.3,764.8 690.9,734.2 713.6,706.0 736.3,674.6 759.0,671.4 781.7,670.2 804.4,708.0 827.1,717.8 849.7,734.8 872.4,737.6 895.1,748.0 917.8,748.4 940.5,768.4 963.2,784.8 985.8,805.8 1008.5,813.2 1031.2,819.2 1053.9,822.2 1076.6,821.6 1099.3,820.4 1121.9,819.8 1144.6,824.0 1167.3,826.6 1190.0,826.8 1212.7,828.4 1235.4,833.4 1258.1,834.0 1280.7,836.4 1303.4,841.4 1326.1,843.0 1348.8,839.2 1371.5,839.0 1394.2,838.2 1416.8,835.2 1439.5,836.2 1462.2,839.4 1484.9,841.0 1507.6,840.6 1530.3,845.0 1552.9,846.8" fill="none" stroke="#ffff00" stroke-width="1"/><line x1="1544" y1="852.5" x2="1561" y2="852.5" stroke="#e8e800" stroke-width="1" stroke-dasharray="1 1"/><rect x="57" y="0" width="1" height="1" fill="#ffffff"/><rect x="122" y="0" width="1" height="1" fill="#ffffff"/><rect x="134" y="0" width="6" height="1" fill="#a0a0a0"/><rect x="477" y="0" width="1" height="1" fill="#ffffff"/><rect x="1606" y="0" width="1" height="1" fill="#ffffff"/><rect x="1620" y="0" width="10" height="1" fill="#a0a0a0"/><rect x="1" y="573" width="1633" height="1" fill="#800000"/><rect x="1634" y="0" width="1" height="573" fill="#800000"/><rect x="1634" y="573" width="51" height="2" fill="#800000"/><rect x="1634" y="573" width="2" height="294" fill="#800000"/><rect x="1684" y="573" width="1" height="294" fill="#800000"/><rect x="0" y="867" width="1685" height="1" fill="#800000"/><rect x="1635" y="15" width="5" height="1" fill="#800000"/><text x="1656.50" y="19" textLength="23.30" lengthAdjust="spacingAndGlyphs" font-family='"Liberation Sans", sans-serif' font-size="13" fill="#d40000" >5.20</text><rect x="1635" y="36" width="3" height="1" fill="#800000"/><rect x="1635" y="57" width="5" height="1" fill="#800000"/><text x="1656.50" y="61" textLength="23.30" lengthAdjust="spacingAndGlyphs" font-family='"Liberation Sans", sans-serif' font-size="13" fill="#d40000" >5.00</text><rect x="1635" y="78" width="3" height="1" fill="#800000"/><rect x="1635" y="100" width="5" height="1" fill="#800000"/><text x="1656.50" y="104" textLength="23.30" lengthAdjust="spacingAndGlyphs" font-family='"Liberation Sans", sans-serif' font-size="13" fill="#d40000" >4.80</text><rect x="1635" y="121" width="3" height="1" fill="#800000"/><rect x="1635" y="142" width="5" height="1" fill="#800000"/><text x="1656.50" y="146" textLength="23.30" lengthAdjust="spacingAndGlyphs" font-family='"Liberation Sans", sans-serif' font-size="13" fill="#d40000" >4.60</text><rect x="1635" y="163" width="3" height="1" fill="#800000"/><rect x="1635" y="185" width="5" height="1" fill="#800000"/><text x="1656.50" y="189" textLength="23.30" lengthAdjust="spacingAndGlyphs" font-family='"Liberation Sans", sans-serif' font-size="13" fill="#d40000" >4.40</text><rect x="1635" y="206" width="3" height="1" fill="#800000"/><rect x="1635" y="227" width="5" height="1" fill="#800000"/><text x="1656.50" y="231" textLength="23.30" lengthAdjust="spacingAndGlyphs" font-family='"Liberation Sans", sans-serif' font-size="13" fill="#d40000" >4.20</text><rect x="1635" y="248" width="3" height="1" fill="#800000"/><rect x="1635" y="269" width="5" height="1" fill="#800000"/><text x="1656.50" y="273" textLength="23.30" lengthAdjust="spacingAndGlyphs" font-family='"Liberation Sans", sans-serif' font-size="13" fill="#d40000" >4.00</text><rect x="1635" y="290" width="3" height="1" fill="#800000"/><rect x="1635" y="312" width="5" height="1" fill="#800000"/><text x="1656.50" y="316" textLength="23.30" lengthAdjust="spacingAndGlyphs" font-family='"Liberation Sans", sans-serif' font-size="13" fill="#d40000" >3.80</text><rect x="1635" y="333" width="3" height="1" fill="#800000"/><rect x="1635" y="354" width="5" height="1" fill="#800000"/><text x="1656.50" y="358" textLength="23.30" lengthAdjust="spacingAndGlyphs" font-family='"Liberation Sans", sans-serif' font-size="13" fill="#d40000" >3.60</text><rect x="1635" y="375" width="3" height="1" fill="#800000"/><rect x="1635" y="397" width="5" height="1" fill="#800000"/><text x="1656.50" y="401" textLength="23.30" lengthAdjust="spacingAndGlyphs" font-family='"Liberation Sans", sans-serif' font-size="13" fill="#d40000" >3.40</text><rect x="1635" y="418" width="3" height="1" fill="#800000"/><rect x="1635" y="439" width="5" height="1" fill="#800000"/><text x="1656.50" y="443" textLength="23.30" lengthAdjust="spacingAndGlyphs" font-family='"Liberation Sans", sans-serif' font-size="13" fill="#d40000" >3.20</text><rect x="1635" y="460" width="3" height="1" fill="#800000"/><rect x="1635" y="481" width="5" height="1" fill="#800000"/><text x="1656.50" y="485" textLength="23.30" lengthAdjust="spacingAndGlyphs" font-family='"Liberation Sans", sans-serif' font-size="13" fill="#d40000" >3.00</text><rect x="1635" y="502" width="3" height="1" fill="#800000"/><rect x="1635" y="524" width="5" height="1" fill="#800000"/><text x="1656.50" y="528" textLength="23.30" lengthAdjust="spacingAndGlyphs" font-family='"Liberation Sans", sans-serif' font-size="13" fill="#d40000" >2.80</text><rect x="1636" y="602" width="5" height="1" fill="#800000"/><text x="1645.25" y="606" textLength="34.55" lengthAdjust="spacingAndGlyphs" font-family='"Liberation Sans", sans-serif' font-size="13" fill="#d40000" >90000</text><rect x="1636" y="616" width="3" height="1" fill="#800000"/><rect x="1636" y="631" width="5" height="1" fill="#800000"/><text x="1645.25" y="635" textLength="34.55" lengthAdjust="spacingAndGlyphs" font-family='"Liberation Sans", sans-serif' font-size="13" fill="#d40000" >80000</text><rect x="1636" y="645" width="3" height="1" fill="#800000"/><rect x="1636" y="660" width="5" height="1" fill="#800000"/><text x="1645.25" y="664" textLength="34.55" lengthAdjust="spacingAndGlyphs" font-family='"Liberation Sans", sans-serif' font-size="13" fill="#d40000" >70000</text><rect x="1636" y="674" width="3" height="1" fill="#800000"/><rect x="1636" y="689" width="5" height="1" fill="#800000"/><text x="1645.25" y="693" textLength="34.55" lengthAdjust="spacingAndGlyphs" font-family='"Liberation Sans", sans-serif' font-size="13" fill="#d40000" >60000</text><rect x="1636" y="703" width="3" height="1" fill="#800000"/><rect x="1636" y="717" width="5" height="1" fill="#800000"/><text x="1645.25" y="721" textLength="34.55" lengthAdjust="spacingAndGlyphs" font-family='"Liberation Sans", sans-serif' font-size="13" fill="#d40000" >50000</text><rect x="1636" y="731" width="3" height="1" fill="#800000"/><rect x="1636" y="746" width="5" height="1" fill="#800000"/><text x="1645.25" y="750" textLength="34.55" lengthAdjust="spacingAndGlyphs" font-family='"Liberation Sans", sans-serif' font-size="13" fill="#d40000" >40000</text><rect x="1636" y="760" width="3" height="1" fill="#800000"/><rect x="1636" y="775" width="5" height="1" fill="#800000"/><text x="1645.25" y="779" textLength="34.55" lengthAdjust="spacingAndGlyphs" font-family='"Liberation Sans", sans-serif' font-size="13" fill="#d40000" >30000</text><rect x="1636" y="789" width="3" height="1" fill="#800000"/><rect x="1636" y="804" width="5" height="1" fill="#800000"/><text x="1645.25" y="808" textLength="34.55" lengthAdjust="spacingAndGlyphs" font-family='"Liberation Sans", sans-serif' font-size="13" fill="#d40000" >20000</text><rect x="1636" y="818" width="3" height="1" fill="#800000"/><rect x="1636" y="833" width="5" height="1" fill="#800000"/><text x="1645.25" y="837" textLength="34.55" lengthAdjust="spacingAndGlyphs" font-family='"Liberation Sans", sans-serif' font-size="13" fill="#d40000" >10000</text><rect x="1636" y="847" width="3" height="1" fill="#800000"/><rect x="1635" y="68" width="50" height="17" fill="#000080"/><rect x="1635" y="68" width="50" height="1" fill="#b00000"/><rect x="1635" y="84" width="50" height="1" fill="#b00000"/><text x="1634.70" y="80" textLength="24.70" lengthAdjust="spacingAndGlyphs" font-family='"Liberation Sans", sans-serif' font-size="13" fill="#ffffff" >4.87</text><rect x="1636.5" y="850.5" width="25" height="16" fill="none" stroke="#9a0000" stroke-width="1"/><text x="1636.30" y="862" textLength="23.60" lengthAdjust="spacingAndGlyphs" font-family='"Liberation Sans", sans-serif' font-size="13" fill="#d40000" >X10</text><text x="10.50" y="881" textLength="40.00" lengthAdjust="spacingAndGlyphs" font-family='"Liberation Sans", sans-serif' font-size="13" fill="#d00000" >2022年</text><rect x="74" y="868" width="84" height="15" fill="#000080"/><rect x="73" y="868" width="1" height="15" fill="#c00000"/><text x="73.50" y="879.5" textLength="84.00" lengthAdjust="spacingAndGlyphs" font-family='"Liberation Sans", sans-serif' font-size="13" fill="#ffffff" >2022/04/20/三</text><rect x="157" y="868" width="1" height="15" fill="#a00000"/><rect x="258" y="868" width="1" height="15" fill="#c00000"/><text x="259.00" y="880" textLength="7.50" lengthAdjust="spacingAndGlyphs" font-family='"Liberation Sans", sans-serif' font-size="13" fill="#d00000" >5</text><rect x="667" y="868" width="1" height="15" fill="#c00000"/><text x="668.00" y="880" textLength="7.50" lengthAdjust="spacingAndGlyphs" font-family='"Liberation Sans", sans-serif' font-size="13" fill="#d00000" >6</text><rect x="1143" y="868" width="1" height="15" fill="#c00000"/><text x="1144.00" y="880" textLength="7.50" lengthAdjust="spacingAndGlyphs" font-family='"Liberation Sans", sans-serif' font-size="13" fill="#d00000" >7</text><rect x="361" y="868" width="1" height="2" fill="#c00000"/><rect x="463" y="868" width="1" height="2" fill="#c00000"/><rect x="565" y="868" width="1" height="2" fill="#c00000"/><rect x="786" y="868" width="1" height="2" fill="#c00000"/><rect x="905" y="868" width="1" height="2" fill="#c00000"/><rect x="1024" y="868" width="1" height="2" fill="#c00000"/><rect x="1634" y="868" width="1" height="16" fill="#9a0000"/><text x="1647.50" y="881" textLength="23.70" lengthAdjust="spacingAndGlyphs" font-family='"Liberation Sans", sans-serif' font-size="12" fill="#ffffff" >日线</text><rect x="0" y="884" width="1685" height="3" fill="#2a2a2a"/><rect x="37" y="884" width="2" height="3" fill="#000"/><rect x="73" y="884" width="2" height="3" fill="#000"/><rect x="104" y="884" width="2" height="3" fill="#000"/><rect x="159" y="884" width="2" height="3" fill="#000"/><rect x="216" y="884" width="2" height="3" fill="#000"/><rect x="285" y="884" width="2" height="3" fill="#000"/><rect x="350" y="884" width="2" height="3" fill="#000"/><rect x="417" y="884" width="2" height="3" fill="#000"/><rect x="472" y="884" width="2" height="3" fill="#000"/><rect x="527" y="884" width="2" height="3" fill="#000"/><rect x="587" y="884" width="2" height="3" fill="#000"/><rect x="628" y="884" width="2" height="3" fill="#000"/><rect x="672" y="884" width="2" height="3" fill="#000"/><rect x="716" y="884" width="2" height="3" fill="#000"/><rect x="760" y="884" width="2" height="3" fill="#000"/><rect x="817" y="884" width="2" height="3" fill="#000"/><rect x="890" y="884" width="2" height="3" fill="#000"/><rect x="962" y="884" width="2" height="3" fill="#000"/><rect x="1087" y="884" width="2" height="3" fill="#000"/><rect x="1214" y="884" width="2" height="3" fill="#000"/><rect x="1339" y="884" width="2" height="3" fill="#000"/><rect x="1466" y="884" width="2" height="3" fill="#000"/><rect x="1592" y="884" width="2" height="3" fill="#000"/><rect x="1633" y="884" width="2" height="3" fill="#000"/><rect x="1661" y="884" width="2" height="3" fill="#000"/><circle cx="9" cy="582" r="6" fill="#808080" shape-rendering="auto"/><polyline points="5.5,580.5 9,584 12.5,580.5" fill="none" stroke="#1a1a1a" stroke-width="1.3" shape-rendering="auto"/><text x="18.50" y="586" textLength="86.00" lengthAdjust="spacingAndGlyphs" font-family='"Liberation Sans", sans-serif' font-size="13" fill="#e8e8e8" >VOL-TDX(5,10)</text><text x="108.50" y="586" textLength="92.00" lengthAdjust="spacingAndGlyphs" font-family='"Liberation Sans", sans-serif' font-size="13" fill="#e8e8e8" >VVOL: 34829.82</text><text x="209.50" y="586" textLength="112.00" lengthAdjust="spacingAndGlyphs" font-family='"Liberation Sans", sans-serif' font-size="13" fill="#ffff00" >VOLUME: 28523.19</text><text x="325.90" y="586" textLength="86.20" lengthAdjust="spacingAndGlyphs" font-family='"Liberation Sans", sans-serif' font-size="13" fill="#ffff00" >MA5: 50820.82</text><text x="417.10" y="586" textLength="93.40" lengthAdjust="spacingAndGlyphs" font-family='"Liberation Sans", sans-serif' font-size="13" fill="#ff00ff" >MA10: 69472.10</text><text x="1.50" y="556.5" textLength="73.00" lengthAdjust="spacingAndGlyphs" font-family='"Liberation Sans", sans-serif' font-size="12" fill="#808080" >用到未来数据</text><rect x="139" y="559" width="13" height="13" fill="#008000"/><text x="145.5" y="570.5" text-anchor="middle" font-family='"Liberation Sans", sans-serif' font-size="12" font-weight="bold" fill="#ffffff">跌</text><rect x="252" y="559" width="13" height="13" fill="#1c3c78"/><text x="258.5" y="570.5" text-anchor="middle" font-family='"Liberation Sans", sans-serif' font-size="12" font-weight="bold" fill="#ffffff">财</text><rect x="661" y="559" width="13" height="13" fill="#8b4513"/><text x="667.5" y="570.5" text-anchor="middle" font-family='"Liberation Sans", sans-serif' font-size="12" font-weight="bold" fill="#ffffff">榜</text><rect x="1342" y="559" width="13" height="13" fill="#c04a10"/><text x="1348.5" y="570.5" text-anchor="middle" font-family='"Liberation Sans", sans-serif' font-size="12" font-weight="bold" fill="#ffffff">预</text><polygon points="576.5,563 580.5,567 572.5,567" fill="#ff0000"/><polygon points="576.5,567 580.5,571 572.5,571" fill="#00b0ff"/><text x="703.50" y="60.5" textLength="24.50" lengthAdjust="spacingAndGlyphs" font-family='"Liberation Sans", sans-serif' font-size="13" fill="#e6e6e6" >5.03</text><polyline points="701,55.5 691.5,52" fill="none" stroke="#e6e6e6" stroke-width="1" shape-rendering="auto"/><polyline points="694,51 691.5,52 693,54.5" fill="none" stroke="#e6e6e6" stroke-width="1" shape-rendering="auto"/><text x="203.70" y="511" textLength="24.80" lengthAdjust="spacingAndGlyphs" font-family='"Liberation Sans", sans-serif' font-size="13" fill="#e6e6e6" >2.88</text><rect x="192" y="507" width="11" height="1" fill="#e6e6e6"/><polyline points="194.5,505 192,507.5 194.5,510" fill="none" stroke="#e6e6e6" stroke-width="1" shape-rendering="auto"/><text x="622.5" y="298" text-anchor="middle" font-family='"Liberation Sans", sans-serif' font-size="12" fill="#f0f000">1</text><text x="645.6" y="214" text-anchor="middle" font-family='"Liberation Sans", sans-serif' font-size="12" fill="#f0f000">2</text><text x="668.4" y="122" text-anchor="middle" font-family='"Liberation Sans", sans-serif' font-size="12" fill="#f0f000">3</text><text x="633.90" y="404" textLength="48.80" lengthAdjust="spacingAndGlyphs" font-family='"Liberation Sans", sans-serif' font-size="12" fill="#ffff00" >突破涨停</text><polyline points="631,402 625.5,396.5" fill="none" stroke="#f0f000" stroke-width="1" shape-rendering="auto"/><polyline points="625.5,400 625.5,396.5 629,396.5" fill="none" stroke="#f0f000" stroke-width="1" shape-rendering="auto"/><g transform="translate(498,345)" shape-rendering="auto"><path d="M8.5,14 L8.5,7 Q9.6,5.6 10.8,7 L10.8,10.2 Q12,9.3 13.2,10.2 Q14.6,9.6 15.6,10.9 Q17.1,10.6 17.8,12.2 L17.8,17 Q17.2,20.6 13.5,20.9 L11,20.9 Q9,20.6 8,19.2 L5.2,15 Q4.9,13 6.6,13.4 L8.5,15.2 Z" fill="#f7c55c" stroke="#7a3e0a" stroke-width="0.9"/><path d="M9.4,7.5 L9.6,13" stroke="#ffffff" stroke-width="1" fill="none"/><path d="M6,14.5 L9.5,19" stroke="#fff2d0" stroke-width="0.9" fill="none"/></g><g transform="translate(611,345.3)" shape-rendering="auto"><path d="M8.5,14 L8.5,7 Q9.6,5.6 10.8,7 L10.8,10.2 Q12,9.3 13.2,10.2 Q14.6,9.6 15.6,10.9 Q17.1,10.6 17.8,12.2 L17.8,17 Q17.2,20.6 13.5,20.9 L11,20.9 Q9,20.6 8,19.2 L5.2,15 Q4.9,13 6.6,13.4 L8.5,15.2 Z" fill="#f7c55c" stroke="#7a3e0a" stroke-width="0.9"/><path d="M9.4,7.5 L9.6,13" stroke="#ffffff" stroke-width="1" fill="none"/><path d="M6,14.5 L9.5,19" stroke="#fff2d0" stroke-width="0.9" fill="none"/></g><text x="50.0" y="118.0" text-anchor="middle" dominant-baseline="central" transform="rotate(-45 50.0 118.0)" font-family='"Liberation Sans", sans-serif' font-size="24" fill="#8c8c8c" fill-opacity="0.28">www.cfchi.com</text><text x="294.5" y="118.0" text-anchor="middle" dominant-baseline="central" transform="rotate(-45 294.5 118.0)" font-family='"Liberation Sans", sans-serif' font-size="24" fill="#8c8c8c" fill-opacity="0.28">www.cfchi.com</text><text x="539.0" y="118.0" text-anchor="middle" dominant-baseline="central" transform="rotate(-45 539.0 118.0)" font-family='"Liberation Sans", sans-serif' font-size="24" fill="#8c8c8c" fill-opacity="0.28">www.cfchi.com</text><text x="783.5" y="118.0" text-anchor="middle" dominant-baseline="central" transform="rotate(-45 783.5 118.0)" font-family='"Liberation Sans", sans-serif' font-size="24" fill="#8c8c8c" fill-opacity="0.28">www.cfchi.com</text><text x="1028.0" y="118.0" text-anchor="middle" dominant-baseline="central" transform="rotate(-45 1028.0 118.0)" font-family='"Liberation Sans", sans-serif' font-size="24" fill="#8c8c8c" fill-opacity="0.28">www.cfchi.com</text><text x="1272.5" y="118.0" text-anchor="middle" dominant-baseline="central" transform="rotate(-45 1272.5 118.0)" font-family='"Liberation Sans", sans-serif' font-size="24" fill="#8c8c8c" fill-opacity="0.28">www.cfchi.com</text><text x="1517.0" y="118.0" text-anchor="middle" dominant-baseline="central" transform="rotate(-45 1517.0 118.0)" font-family='"Liberation Sans", sans-serif' font-size="24" fill="#8c8c8c" fill-opacity="0.28">www.cfchi.com</text><text x="50.0" y="296.3" text-anchor="middle" dominant-baseline="central" transform="rotate(-45 50.0 296.3)" font-family='"Liberation Sans", sans-serif' font-size="24" fill="#8c8c8c" fill-opacity="0.28">www.cfchi.com</text><text x="294.5" y="296.3" text-anchor="middle" dominant-baseline="central" transform="rotate(-45 294.5 296.3)" font-family='"Liberation Sans", sans-serif' font-size="24" fill="#8c8c8c" fill-opacity="0.28">www.cfchi.com</text><text x="539.0" y="296.3" text-anchor="middle" dominant-baseline="central" transform="rotate(-45 539.0 296.3)" font-family='"Liberation Sans", sans-serif' font-size="24" fill="#8c8c8c" fill-opacity="0.28">www.cfchi.com</text><text x="783.5" y="296.3" text-anchor="middle" dominant-baseline="central" transform="rotate(-45 783.5 296.3)" font-family='"Liberation Sans", sans-serif' font-size="24" fill="#8c8c8c" fill-opacity="0.28">www.cfchi.com</text><text x="1028.0" y="296.3" text-anchor="middle" dominant-baseline="central" transform="rotate(-45 1028.0 296.3)" font-family='"Liberation Sans", sans-serif' font-size="24" fill="#8c8c8c" fill-opacity="0.28">www.cfchi.com</text><text x="1272.5" y="296.3" text-anchor="middle" dominant-baseline="central" transform="rotate(-45 1272.5 296.3)" font-family='"Liberation Sans", sans-serif' font-size="24" fill="#8c8c8c" fill-opacity="0.28">www.cfchi.com</text><text x="1517.0" y="296.3" text-anchor="middle" dominant-baseline="central" transform="rotate(-45 1517.0 296.3)" font-family='"Liberation Sans", sans-serif' font-size="24" fill="#8c8c8c" fill-opacity="0.28">www.cfchi.com</text><text x="50.0" y="474.6" text-anchor="middle" dominant-baseline="central" transform="rotate(-45 50.0 474.6)" font-family='"Liberation Sans", sans-serif' font-size="24" fill="#8c8c8c" fill-opacity="0.28">www.cfchi.com</text><text x="294.5" y="474.6" text-anchor="middle" dominant-baseline="central" transform="rotate(-45 294.5 474.6)" font-family='"Liberation Sans", sans-serif' font-size="24" fill="#8c8c8c" fill-opacity="0.28">www.cfchi.com</text><text x="539.0" y="474.6" text-anchor="middle" dominant-baseline="central" transform="rotate(-45 539.0 474.6)" font-family='"Liberation Sans", sans-serif' font-size="24" fill="#8c8c8c" fill-opacity="0.28">www.cfchi.com</text><text x="783.5" y="474.6" text-anchor="middle" dominant-baseline="central" transform="rotate(-45 783.5 474.6)" font-family='"Liberation Sans", sans-serif' font-size="24" fill="#8c8c8c" fill-opacity="0.28">www.cfchi.com</text><text x="1028.0" y="474.6" text-anchor="middle" dominant-baseline="central" transform="rotate(-45 1028.0 474.6)" font-family='"Liberation Sans", sans-serif' font-size="24" fill="#8c8c8c" fill-opacity="0.28">www.cfchi.com</text><text x="1272.5" y="474.6" text-anchor="middle" dominant-baseline="central" transform="rotate(-45 1272.5 474.6)" font-family='"Liberation Sans", sans-serif' font-size="24" fill="#8c8c8c" fill-opacity="0.28">www.cfchi.com</text><text x="1517.0" y="474.6" text-anchor="middle" dominant-baseline="central" transform="rotate(-45 1517.0 474.6)" font-family='"Liberation Sans", sans-serif' font-size="24" fill="#8c8c8c" fill-opacity="0.28">www.cfchi.com</text><text x="50.0" y="652.9" text-anchor="middle" dominant-baseline="central" transform="rotate(-45 50.0 652.9)" font-family='"Liberation Sans", sans-serif' font-size="24" fill="#8c8c8c" fill-opacity="0.28">www.cfchi.com</text><text x="294.5" y="652.9" text-anchor="middle" dominant-baseline="central" transform="rotate(-45 294.5 652.9)" font-family='"Liberation Sans", sans-serif' font-size="24" fill="#8c8c8c" fill-opacity="0.28">www.cfchi.com</text><text x="539.0" y="652.9" text-anchor="middle" dominant-baseline="central" transform="rotate(-45 539.0 652.9)" font-family='"Liberation Sans", sans-serif' font-size="24" fill="#8c8c8c" fill-opacity="0.28">www.cfchi.com</text><text x="783.5" y="652.9" text-anchor="middle" dominant-baseline="central" transform="rotate(-45 783.5 652.9)" font-family='"Liberation Sans", sans-serif' font-size="24" fill="#8c8c8c" fill-opacity="0.28">www.cfchi.com</text><text x="1028.0" y="652.9" text-anchor="middle" dominant-baseline="central" transform="rotate(-45 1028.0 652.9)" font-family='"Liberation Sans", sans-serif' font-size="24" fill="#8c8c8c" fill-opacity="0.28">www.cfchi.com</text><text x="1272.5" y="652.9" text-anchor="middle" dominant-baseline="central" transform="rotate(-45 1272.5 652.9)" font-family='"Liberation Sans", sans-serif' font-size="24" fill="#8c8c8c" fill-opacity="0.28">www.cfchi.com</text><text x="1517.0" y="652.9" text-anchor="middle" dominant-baseline="central" transform="rotate(-45 1517.0 652.9)" font-family='"Liberation Sans", sans-serif' font-size="24" fill="#8c8c8c" fill-opacity="0.28">www.cfchi.com</text></svg></body></html>
